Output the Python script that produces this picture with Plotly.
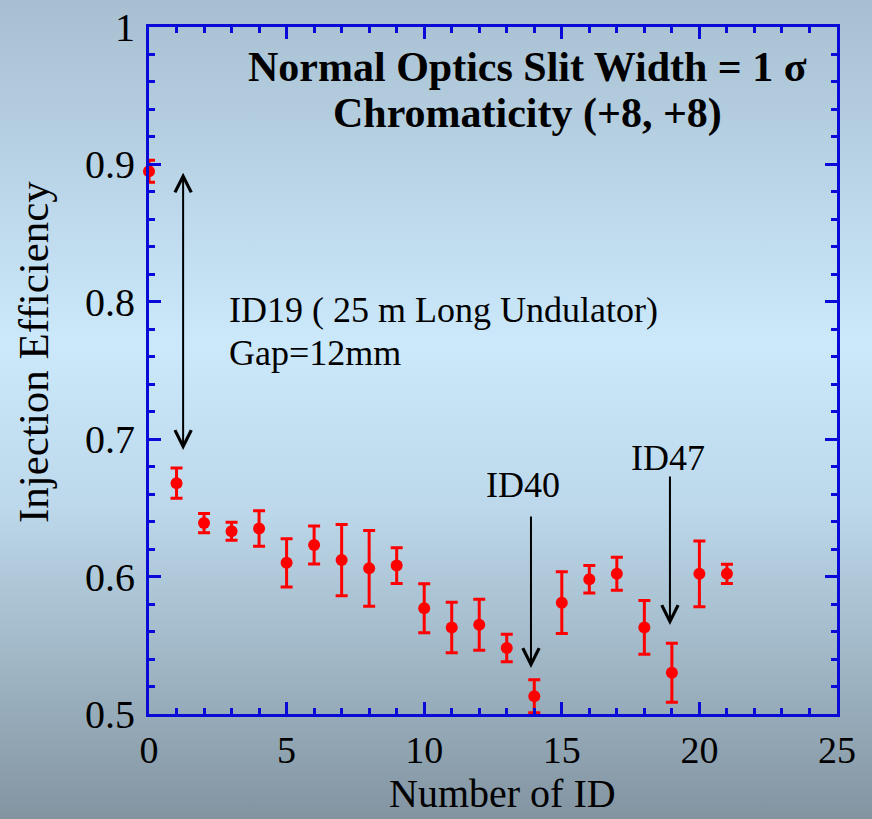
import base64
import plotly.graph_objects as go

# Injection efficiency per number of closed insertion devices
n_id = list(range(22))
efficiency = [0.895, 0.668, 0.639, 0.633, 0.635, 0.610, 0.623, 0.612, 0.606, 0.608,
              0.577, 0.563, 0.565, 0.548, 0.513, 0.581, 0.598, 0.602, 0.563, 0.530,
              0.602, 0.602]
err = [0.008, 0.011, 0.007, 0.0065, 0.013, 0.0176, 0.0138, 0.026, 0.0275, 0.013,
       0.0178, 0.0184, 0.0186, 0.010, 0.012, 0.0225, 0.010, 0.012, 0.0196, 0.0215,
       0.024, 0.007]

SERIF = "Liberation Serif"
BLUE = "#0a0ad8"

fig = go.Figure()
fig.add_trace(go.Scatter(
    x=n_id, y=efficiency, mode="markers",
    marker=dict(color="#ff0000", size=12),
    error_y=dict(type="data", array=err, visible=True, color="#ff0000",
                 thickness=3, width=6),
    cliponaxis=False, showlegend=False,
))

# soft vertical gradient behind the whole figure
svg = ('<svg xmlns="http://www.w3.org/2000/svg" width="872" height="819" '
       'preserveAspectRatio="none"><defs><linearGradient id="g" x1="0" y1="0" '
       'x2="0" y2="1"><stop offset="0" stop-color="#a7bfd1"/>'
       '<stop offset="0.42" stop-color="#cbe9fb"/>'
       '<stop offset="0.62" stop-color="#bcd8ea"/>'
       '<stop offset="1" stop-color="#8394a1"/></linearGradient></defs>'
       '<rect width="872" height="819" fill="url(#g)"/></svg>')
bg_src = "data:image/svg+xml;base64," + base64.b64encode(svg.encode()).decode()

L, R, T, B = 149, 35, 27, 105
W, H = 872, 819
pw, ph = W - L - R, H - T - B
fig.add_layout_image(dict(
    source=bg_src, xref="paper", yref="paper",
    x=-L / pw, y=1 + T / ph, sizex=W / pw, sizey=H / ph,
    sizing="stretch", xanchor="left", yanchor="top", layer="below",
))

axis_common = dict(
    showline=True, linecolor=BLUE, linewidth=3, mirror="allticks",
    ticks="inside", ticklen=12, tickwidth=2.5, tickcolor=BLUE,
    showgrid=False, zeroline=False, automargin=False,
)
fig.update_xaxes(range=[0, 25], dtick=5, tick0=0,
                 minor=dict(dtick=1, ticks="inside", ticklen=6, tickwidth=2.5, tickcolor=BLUE),
                 tickfont=dict(family=SERIF, size=38, color="black"),
                 ticklabelstandoff=0,
                 **axis_common)
fig.update_yaxes(range=[0.5, 1], dtick=0.1, tick0=0.5, tickformat="~g",
                 minor=dict(dtick=0.02, ticks="inside", ticklen=6, tickwidth=2.5, tickcolor=BLUE),
                 tickfont=dict(family=SERIF, size=40, color="black"),
                 ticklabelstandoff=3,
                 **axis_common)

# axis titles, placed in figure pixels converted to paper units
fig.add_annotation(x=(502 - L) / pw, y=((H - B) - 794) / ph, xref="paper", yref="paper",
                   xanchor="center", yanchor="middle", borderpad=0,
                   text="Number of ID", showarrow=False,
                   font=dict(family=SERIF, size=40, color="black"))
fig.add_annotation(x=(33 - L) / pw, y=((H - B) - 352) / ph, xref="paper", yref="paper",
                   xanchor="center", yanchor="middle",
                   text="Injection Efficiency", showarrow=False, textangle=-90,
                   font=dict(family=SERIF, size=43, color="black"))

# double-headed arrow spanning the efficiency drop after ID19
fig.add_annotation(x=1.24, y=0.894, ax=1.24, ay=0.691, xref="x", yref="y",
                   axref="x", ayref="y", text="", showarrow=True,
                   arrowhead=5, startarrowhead=5, arrowside="end+start",
                   arrowsize=1.6, startarrowsize=1.6, arrowwidth=2, arrowcolor="black")
fig.add_annotation(x=2.83, y=0.794, xref="x", yref="y", xanchor="left",
                   text="ID19 ( 25 m Long Undulator)", showarrow=False,
                   font=dict(family=SERIF, size=36, color="black"))
fig.add_annotation(x=2.83, y=0.7627, xref="x", yref="y", xanchor="left",
                   text="Gap=12mm", showarrow=False,
                   font=dict(family=SERIF, size=36, color="black"))

# markers for ID40 and ID47
fig.add_annotation(x=13.88, y=0.5335, ax=13.88, ay=0.6448, xref="x", yref="y",
                   axref="x", ayref="y", text="", showarrow=True, arrowhead=5,
                   arrowsize=1.6, arrowwidth=2, arrowcolor="black")
fig.add_annotation(x=13.59, y=0.667, xref="x", yref="y", text="ID40", showarrow=False,
                   font=dict(family=SERIF, size=36, color="black"))
fig.add_annotation(x=18.93, y=0.5648, ax=18.93, ay=0.674, xref="x", yref="y",
                   axref="x", ayref="y", text="", showarrow=True, arrowhead=5,
                   arrowsize=1.6, arrowwidth=2, arrowcolor="black")
fig.add_annotation(x=18.87, y=0.6863, xref="x", yref="y", text="ID47", showarrow=False,
                   font=dict(family=SERIF, size=36, color="black"))

# run conditions
fig.add_annotation(x=13.74, y=0.9709, xref="x", yref="y",
                   text="<b>Normal Optics Slit Width = 1 σ</b>",
                   showarrow=False, font=dict(family=SERIF, size=42, color="black"))
fig.add_annotation(x=13.74, y=0.9374, xref="x", yref="y",
                   text="<b>Chromaticity (+8, +8)</b>",
                   showarrow=False, font=dict(family=SERIF, size=42, color="black"))

fig.update_layout(
    width=W, height=H,
    margin=dict(l=L, r=R, t=T, b=B, autoexpand=False),
    paper_bgcolor="rgba(0,0,0,0)", plot_bgcolor="rgba(0,0,0,0)",
)

fig.write_html("out.html")
